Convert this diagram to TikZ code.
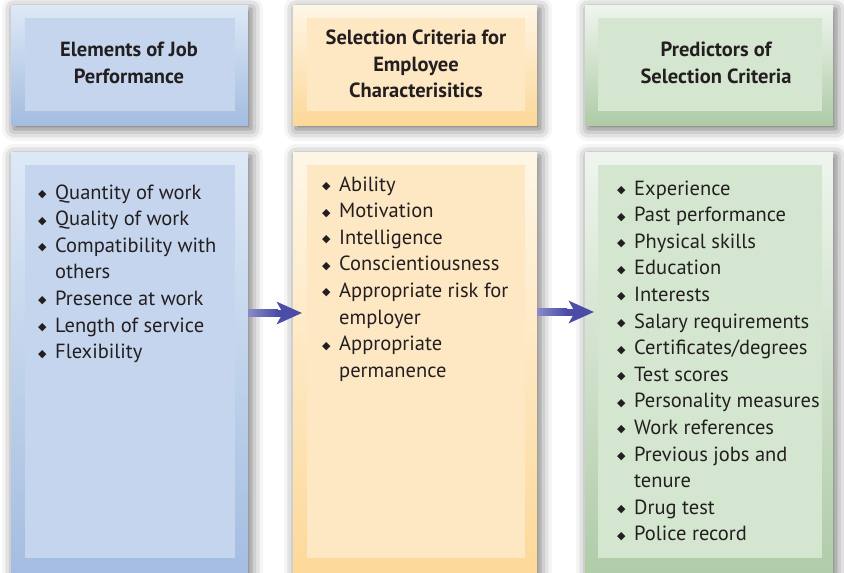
\documentclass[tikz,border=0pt]{standalone}
\usepackage{fontspec}
\setmainfont{PT Sans}
\newfontfamily\symfont{DejaVu Sans}
\usetikzlibrary{arrows.meta,shadows.blur,calc}
\definecolor{bOutT}{HTML}{DDE9F6}
\definecolor{bOutB}{HTML}{A3BCE0}
\definecolor{bIn}{HTML}{C6D5EE}
\definecolor{oOutT}{HTML}{FEF6E6}
\definecolor{oOutB}{HTML}{FDD898}
\definecolor{oIn}{HTML}{FEE7C3}
\definecolor{gOutT}{HTML}{EFF5EE}
\definecolor{gOutB}{HTML}{AECBA6}
\definecolor{gIn}{HTML}{D4E5D0}
\definecolor{arrowc}{HTML}{4B4BA8}
\definecolor{arrowl}{HTML}{8A8AC8}
\definecolor{txt}{HTML}{231F20}
\newcommand{\bul}{\makebox[17pt][l]{\raisebox{1.5pt}{\symfont\fontsize{11}{11}\selectfont ◆}}}
\newcommand{\ind}{\hspace*{17pt}}
\tikzset{
  outerbox/.style={anchor=north west, inner sep=0pt, outer sep=0pt,
    blur shadow={shadow xshift=3pt, shadow yshift=-4pt, shadow blur radius=12pt, shadow opacity=60}},
  innerbox/.style={anchor=north west, inner sep=0pt, outer sep=0pt},
  head/.style={align=center, font=\bfseries\fontsize{20.5}{26.5}\selectfont, text=txt},
  listtxt/.style={anchor=base west, inner sep=0pt, text=txt},
  flow/.style={line width=7pt, arrowc, -{Stealth[length=25pt,width=22pt,inset=6pt]}, shorten >=-9pt}
}
\begin{document}
\begin{tikzpicture}[x=1pt,y=-1pt]
\useasboundingbox (0,0) rectangle (844,573);
% header boxes
\node[outerbox, minimum width=237pt, minimum height=120pt, top color=bOutT, bottom color=bOutB] (lh) at (11,5) {};
\node[innerbox, minimum width=210pt, minimum height=93pt, fill=bIn] (lhi) at (25,18) {};
\node[outerbox, minimum width=244pt, minimum height=120pt, top color=oOutT, bottom color=oOutB] (mh) at (293,5) {};
\node[innerbox, minimum width=218pt, minimum height=93pt, fill=oIn] (mhi) at (307,18) {};
\node[outerbox, minimum width=248pt, minimum height=120pt, top color=gOutT, bottom color=gOutB] (rh) at (585,5) {};
\node[innerbox, minimum width=224pt, minimum height=93pt, fill=gIn] (rhi) at (598,18) {};
% lower boxes
\node[outerbox, minimum width=237pt, minimum height=430pt, top color=bOutT, bottom color=bOutB] (lb) at (11,152) {};
\node[innerbox, minimum width=210pt, minimum height=393pt, fill=bIn] (lbi) at (25,165) {};
\node[outerbox, minimum width=244pt, minimum height=430pt, top color=oOutT, bottom color=oOutB] (mb) at (293,152) {};
\node[innerbox, minimum width=218pt, minimum height=393pt, fill=oIn] (mbi) at (307,165) {};
\node[outerbox, minimum width=248pt, minimum height=430pt, top color=gOutT, bottom color=gOutB] (rb) at (585,152) {};
\node[innerbox, minimum width=224pt, minimum height=393pt, fill=gIn] (rbi) at (598,165) {};
% headings
\node[head] (lht) at (129,63) {Elements of Job\\Performance};
\node[head] (mht) at (416,64) {Selection Criteria for\\Employee\\Characterisitics};
\node[head] (rht) at (716,63) {Predictors of\\Selection Criteria};
% lists
\node[listtxt] (llist) at (38,199) {\fontsize{20.5}{26.6}\selectfont\begin{tabular}[t]{@{}l@{}}
\bul Quantity of work\\
\bul Quality of work\\
\bul Compatibility with\\
\ind others\\
\bul Presence at work\\
\bul Length of service\\
\bul Flexibility
\end{tabular}};
\node[listtxt] (mlist) at (322,191) {\fontsize{20.5}{26.6}\selectfont\begin{tabular}[t]{@{}l@{}}
\bul Ability\\
\bul Motivation\\
\bul Intelligence\\
\bul Conscientiousness\\
\bul Appropriate risk for\\
\ind employer\\
\bul Appropriate\\
\ind permanence
\end{tabular}};
\node[listtxt] (rlist) at (617,195) {\fontsize{20.5}{26.6}\selectfont\begin{tabular}[t]{@{}l@{}}
\bul Experience\\
\bul Past performance\\
\bul Physical skills\\
\bul Education\\
\bul Interests\\
\bul Salary requirements\\
\bul Certificates/degrees\\
\bul Test scores\\
\bul Personality measures\\
\bul Work references\\
\bul Previous jobs and\\
\ind tenure\\
\bul Drug test\\
\bul Police record
\end{tabular}};
% arrows
\coordinate (a1) at (0,313);
\coordinate (a2) at (0,312);
\draw[flow] (lb.east |- a1) -- (mb.west |- a1);
\shade[left color=arrowl, right color=arrowc] ($(lb.east |- a1)+(0,-3.5)$) rectangle ($(lb.east |- a1)+(30,3.5)$);
\draw[flow] (mb.east |- a2) -- (rb.west |- a2);
\shade[left color=arrowl, right color=arrowc] ($(mb.east |- a2)+(0,-3.5)$) rectangle ($(mb.east |- a2)+(30,3.5)$);
\end{tikzpicture}
\end{document}
